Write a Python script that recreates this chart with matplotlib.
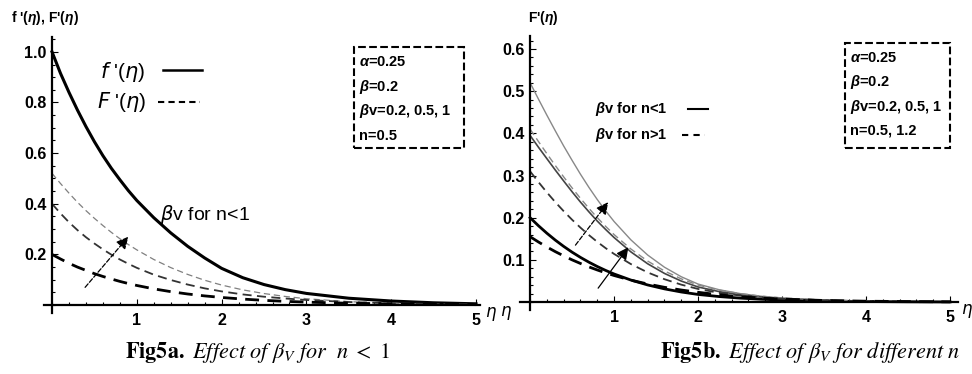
import matplotlib
matplotlib.use("Agg")
import matplotlib.pyplot as plt
from matplotlib.patches import Rectangle
from matplotlib.ticker import MultipleLocator

plt.rcParams['font.family'] = ['Liberation Sans', 'DejaVu Sans']
plt.rcParams['mathtext.fontset'] = 'custom'
plt.rcParams['mathtext.rm'] = 'Liberation Sans:bold'
plt.rcParams['mathtext.it'] = 'Liberation Sans:italic:bold'
plt.rcParams['mathtext.bf'] = 'Liberation Sans:bold'

# eta grid
eta = [0, 0.1, 0.2, 0.3, 0.4, 0.5, 0.6, 0.7, 0.8, 0.9, 1.0,
       1.2, 1.4, 1.6, 1.8, 2.0, 2.25, 2.5, 2.75, 3.0, 3.5, 4.0, 4.5, 5.0]

# Fig 5a: f'(eta) and F'(eta) for betav = 1, 0.5, 0.2 (n = 0.5)
f_prime = [1.0, 0.915, 0.84, 0.77, 0.705, 0.645, 0.59, 0.54, 0.495, 0.452, 0.413,
           0.345, 0.285, 0.232, 0.186, 0.145, 0.108, 0.081, 0.061, 0.046, 0.027, 0.016, 0.009, 0.005]
Fa_bv1 = [0.52, 0.48, 0.442, 0.406, 0.373, 0.3425, 0.314, 0.287, 0.262, 0.239, 0.218,
          0.18, 0.148, 0.121, 0.098, 0.079, 0.06, 0.0455, 0.034, 0.025, 0.0134, 0.0069, 0.0034, 0.0017]
Fa_bv05 = [0.40, 0.362, 0.327, 0.296, 0.268, 0.243, 0.22, 0.199, 0.18, 0.163, 0.147,
           0.12, 0.099, 0.081, 0.066, 0.054, 0.042, 0.033, 0.026, 0.02, 0.012, 0.0073, 0.0044, 0.0027]
Fa_bv02 = [0.20, 0.182, 0.165, 0.15, 0.137, 0.124, 0.113, 0.103, 0.0935, 0.085, 0.0774,
           0.064, 0.053, 0.0437, 0.0362, 0.03, 0.0236, 0.0186, 0.0147, 0.0116, 0.0072, 0.0045, 0.0028, 0.0017]

# Fig 5b: F'(eta), n<1 (solid) and n>1 (dashed), betav = 1, 0.5, 0.2
Fb_lt_1 = [0.52, 0.481, 0.443, 0.406, 0.37, 0.336, 0.303, 0.272, 0.243, 0.216, 0.191,
           0.1475, 0.1115, 0.0826, 0.06, 0.0427, 0.0293, 0.0202, 0.0139, 0.0095, 0.0045, 0.0021, 0.001, 0.0005]
Fb_lt_05 = [0.395, 0.367, 0.34, 0.313, 0.287, 0.2615, 0.237, 0.214, 0.192, 0.172, 0.153,
            0.119, 0.0908, 0.0679, 0.0498, 0.0358, 0.0249, 0.0174, 0.0121, 0.0084, 0.0041, 0.002, 0.001, 0.0005]
Fb_lt_02 = [0.20, 0.1809, 0.1632, 0.1469, 0.132, 0.1183, 0.1059, 0.0946, 0.0843, 0.075, 0.0666,
            0.0522, 0.0406, 0.0313, 0.0239, 0.0181, 0.0131, 0.0094, 0.0068, 0.0047, 0.0025, 0.0013, 0.0006, 0.0003]
Fb_gt_1 = [0.41, 0.3805, 0.3518, 0.3237, 0.2967, 0.2706, 0.2458, 0.2223, 0.2001, 0.1794, 0.16,
           0.1258, 0.0972, 0.0737, 0.055, 0.0403, 0.0284, 0.02, 0.0141, 0.0099, 0.0049, 0.0024, 0.0012, 0.0006]
Fb_gt_05 = [0.31, 0.2844, 0.26, 0.237, 0.2155, 0.1952, 0.1764, 0.1589, 0.1427, 0.1278, 0.1141,
            0.0901, 0.0703, 0.0542, 0.0413, 0.0311, 0.0219, 0.0154, 0.0109, 0.0077, 0.0038, 0.0019, 0.0009, 0.0005]
Fb_gt_02 = [0.155, 0.1424, 0.1306, 0.1196, 0.1095, 0.1001, 0.0915, 0.0834, 0.0761, 0.0693, 0.063,
            0.052, 0.0428, 0.035, 0.0286, 0.0232, 0.0172, 0.0127, 0.0094, 0.007, 0.0038, 0.0021, 0.0012, 0.0006]

xticks = [1, 2, 3, 4, 5]
yticks_a = [0.2, 0.4, 0.6, 0.8, 1.0]
yticks_b = [0.1, 0.2, 0.3, 0.4, 0.5, 0.6]

box_a = [r'$\alpha$=0.25', r'$\beta$=0.2', r'$\beta$v=0.2, 0.5, 1', 'n=0.5']
box_b = [r'$\alpha$=0.25', r'$\beta$=0.2', r'$\beta$v=0.2, 0.5, 1', 'n=0.5, 1.2']

fig = plt.figure(figsize=(9.72, 3.74), dpi=100)
ax1 = fig.add_axes([0.0448, 0.164, 0.4493, 0.738])
ax2 = fig.add_axes([0.535, 0.172, 0.4511, 0.7308])


def style_axes(ax, ylim, yminor, yticks):
    ax.set_xlim(-0.1, 5.05)
    ax.set_ylim(*ylim)
    for s in ['top', 'right']:
        ax.spines[s].set_visible(False)
    ax.spines['left'].set_position(('data', 0))
    ax.spines['bottom'].set_position(('data', 0))
    ax.spines['left'].set_linewidth(1.6)
    ax.spines['bottom'].set_linewidth(1.6)
    ax.set_xticks(xticks)
    ax.set_yticks(yticks)
    ax.xaxis.set_minor_locator(MultipleLocator(0.2))
    ax.yaxis.set_minor_locator(MultipleLocator(yminor))
    ax.tick_params(which='both', direction='in', width=0.8)
    ax.tick_params(which='major', length=4)
    ax.tick_params(which='minor', length=2.5)
    ax.tick_params(axis='x', pad=6)
    ax.tick_params(axis='y', pad=4)
    for lab in ax.get_xticklabels() + ax.get_yticklabels():
        lab.set_fontweight('bold')
        lab.set_fontsize(11.5)
    ax.set_facecolor('none')


# ---- Fig 5a ----
style_axes(ax1, (-0.03, 1.06), 0.05, yticks_a)
ax1.set_yticklabels(['0.2', '0.4', '0.6', '0.8', '1.0'])
ax1.plot(eta, f_prime, color='black', lw=2.2)
ax1.plot(eta, Fa_bv1, color='#808080', lw=0.9, dashes=(5, 3))
ax1.plot(eta, Fa_bv05, color='#333333', lw=1.3, dashes=(5, 3))
ax1.plot(eta, Fa_bv02, color='black', lw=2.0, dashes=(5, 3))

ax1.text(0.57, 0.92, r"$f$ '($\eta$)", fontsize=15, va='center', math_fontfamily='dejavusans')
ax1.plot([1.31, 1.77], [0.93, 0.93], color='black', lw=1.8)
ax1.text(0.53, 0.80, r"$F$ '($\eta$)", fontsize=15, va='center', math_fontfamily='dejavusans')
ax1.plot([1.25, 1.75], [0.80, 0.80], color='black', lw=1.5, dashes=(3, 2))
ax1.text(1.27, 0.356, r"$\beta$v for n<1", fontsize=14, va='center', math_fontfamily='dejavusans')
ax1.annotate('', xy=(0.9, 0.27), xytext=(0.39, 0.07),
             arrowprops=dict(arrowstyle='-|>', color='black', lw=0.9, ls='--',
                             mutation_scale=18, shrinkA=0, shrinkB=0))

ax1.add_patch(Rectangle((0.711, 0.596), 0.252, 0.366, transform=ax1.transAxes,
                        fill=False, ec='black', lw=1.5, ls='--'))
for i, s in enumerate(box_a):
    ax1.text(0.722, 0.908 - i * 0.089, s, transform=ax1.transAxes, fontsize=10.5,
             fontweight='bold', va='center')
ax1.text(5.1, -0.035, r'$\eta$', fontsize=12, va='center', math_fontfamily='dejavusans',
         clip_on=False)

# ---- Fig 5b ----
style_axes(ax2, (-0.018, 0.63), 0.02, yticks_b)
ax2.set_xlim(-0.12, 5.1)
ax2.plot(eta, Fb_lt_1, color='#888888', lw=1.0)
ax2.plot(eta, Fb_lt_05, color='#444444', lw=1.2)
ax2.plot(eta, Fb_lt_02, color='black', lw=2.0)
ax2.plot(eta, Fb_gt_1, color='#888888', lw=1.0, dashes=(5, 3))
ax2.plot(eta, Fb_gt_05, color='#333333', lw=1.3, dashes=(5, 3))
ax2.plot(eta, Fb_gt_02, color='black', lw=2.0, dashes=(5, 3))

ax2.text(0.77, 0.458, r"$\beta$v for n<1", fontsize=10.5, fontweight='bold', va='center')
ax2.plot([1.88, 2.12], [0.458, 0.458], color='black', lw=1.5)
ax2.text(0.77, 0.396, r"$\beta$v for n>1", fontsize=10.5, fontweight='bold', va='center')
ax2.plot([1.81, 2.08], [0.396, 0.396], color='black', lw=1.5, dashes=(3, 2.5))
ax2.annotate('', xy=(0.93, 0.237), xytext=(0.54, 0.135),
             arrowprops=dict(arrowstyle='-|>', color='black', lw=0.9, ls='--',
                             mutation_scale=18, shrinkA=0, shrinkB=0))
ax2.annotate('', xy=(1.17, 0.13), xytext=(0.81, 0.033),
             arrowprops=dict(arrowstyle='-|>', color='black', lw=0.9,
                             mutation_scale=18, shrinkA=0, shrinkB=0))

ax2.add_patch(Rectangle((0.741, 0.591), 0.24, 0.384, transform=ax2.transAxes,
                        fill=False, ec='black', lw=1.5, ls='--'))
for i, s in enumerate(box_b):
    ax2.text(0.752, 0.921 - i * 0.089, s, transform=ax2.transAxes, fontsize=10.5,
             fontweight='bold', va='center')
ax2.text(-0.36, -0.025, r'$\eta$', fontsize=12, va='center', math_fontfamily='dejavusans',
         clip_on=False)
ax2.text(5.13, -0.02, r'$\eta$', fontsize=12, va='center', math_fontfamily='dejavusans',
         clip_on=False)

# axis titles
fig.text(0.011, 0.952, r"f '($\eta$), F'($\eta$)", fontsize=10, fontweight='bold', va='center')
fig.text(0.543, 0.952, r"F'($\eta$)", fontsize=10, fontweight='bold', va='center')

# captions
fig.text(0.265, 0.058, r"$\mathbf{Fig5a.}\ \mathit{Effect\ of\ \beta_V\ for}\ \ n\ <\ 1$",
         fontsize=16, ha='center', va='center', math_fontfamily='stix')
fig.text(0.833, 0.058, r"$\mathbf{Fig5b.}\ \mathit{Effect\ of\ \beta_V\ for\ different\ n}$",
         fontsize=16, ha='center', va='center', math_fontfamily='stix')

fig.savefig('out.png', dpi=100)
